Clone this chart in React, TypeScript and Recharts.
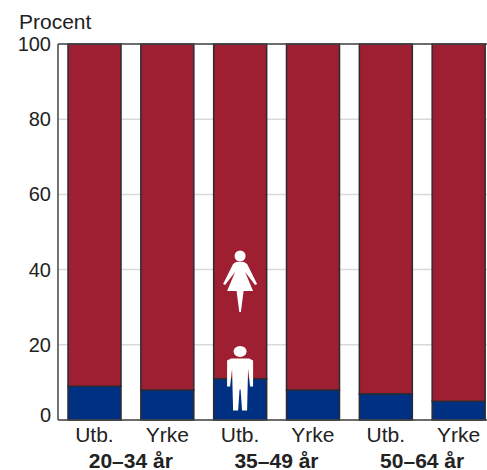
import React from 'react';
import { BarChart, Bar, XAxis, YAxis, CartesianGrid, ReferenceDot, ReferenceLine, Customized } from 'recharts';

const categories = ['a-utb', 'a-yrke', 'b-utb', 'b-yrke', 'c-utb', 'c-yrke'];
const tickLabels = ['Utb.', 'Yrke', 'Utb.', 'Yrke', 'Utb.', 'Yrke'];
const groupLabels = ['20–34 år', '', '35–49 år', '', '50–64 år', ''];
const men = [9, 8, 11, 8, 7, 5];
const women = [91, 92, 89, 92, 93, 95];
const yTicks = [0, 20, 40, 60, 80, 100];

const data = categories.map((c, i) => ({ c, men: men[i], women: women[i] }));

const FONT = '"Liberation Sans", Arial, sans-serif';
const TEXT = '#222';

const XTick = (props: any) => {
  const { x, index } = props;
  return (
    <g fontFamily={FONT} fill={TEXT} fontSize={21}>
      <text x={x} y={442} textAnchor="middle">{tickLabels[index]}</text>
      {groupLabels[index] && (
        // group label is centred between its two bars
        <text x={x + 36.4} y={468} textAnchor="middle" fontWeight="bold">{groupLabels[index]}</text>
      )}
    </g>
  );
};

const YTick = (props: any) => {
  const { y, payload } = props;
  // the zero label sits a bit above the axis line
  const shift = payload.value === 0 ? -5 : 0;
  return (
    <text x={51} y={y + 7 + shift} textAnchor="end" fontFamily={FONT} fontSize={20} fill={TEXT}>
      {payload.value}
    </text>
  );
};

const Woman = ({ cx, cy }: any) => (
  <g transform={`translate(${cx},${cy})`} fill="#fff">
    <ellipse cx={0} cy={-23} rx={5.5} ry={5.5} />
    <path d="M-4,-17 L4,-17 L7,-15 L17,5 L15,6 L5,-7 L13,12 L3.5,12 L0.8,33 L-0.8,33 L-3.5,12 L-13,12 L-5,-7 L-15,6 L-17,5 L-7,-15 Z" />
  </g>
);

const Man = ({ cx, cy }: any) => (
  <g transform={`translate(${cx},${cy})`} fill="#fff">
    <ellipse cx={0} cy={-31} rx={6.5} ry={5.5} />
    <path d="M-9,-24 L9,-24 L13,-22 L13,4 L10,4 L8,-14 L7,28 L2,28 L0.5,7 L-0.5,7 L-2,28 L-7,28 L-8,-14 L-10,4 L-13,4 L-13,-22 Z" />
  </g>
);

export default function App() {
  return (
    <div style={{ position: 'fixed', left: 0, top: 0, width: 487, height: 470, overflow: 'hidden', background: '#fff' }}>
      <BarChart
        width={505}
        height={470}
        data={data}
        margin={{ top: 44, right: 10, bottom: 0, left: 0 }}
        barCategoryGap={10}
      >
        <CartesianGrid horizontal vertical={false} stroke="#d9d9d9" strokeWidth={1.5} />
        <XAxis
          dataKey="c"
          height={50}
          interval={0}
          tick={<XTick />}
          tickLine={false}
          axisLine={{ stroke: '#444', strokeWidth: 1.5 }}
        />
        <YAxis
          width={58}
          domain={[0, 100]}
          ticks={yTicks}
          tick={<YTick />}
          tickLine={false}
          axisLine={{ stroke: '#444', strokeWidth: 1.5 }}
        />
        <ReferenceLine y={100} stroke="#444" strokeWidth={1.5} />
        <Bar dataKey="men" stackId="a" fill="#003082" stroke="#2b2b33" strokeWidth={1.5} isAnimationActive={false} />
        <Bar dataKey="women" stackId="a" fill="#9e1f32" stroke="#2b2b33" strokeWidth={1.5} isAnimationActive={false} />
        <ReferenceDot x="b-utb" y={37.5} ifOverflow="visible" shape={<Woman />} />
        <ReferenceDot x="b-utb" y={10} ifOverflow="visible" shape={<Man />} />
        <Customized
          component={() => (
            <text x={19} y={29} fontFamily={FONT} fontSize={21} fill={TEXT}>Procent</text>
          )}
        />
      </BarChart>
    </div>
  );
}
